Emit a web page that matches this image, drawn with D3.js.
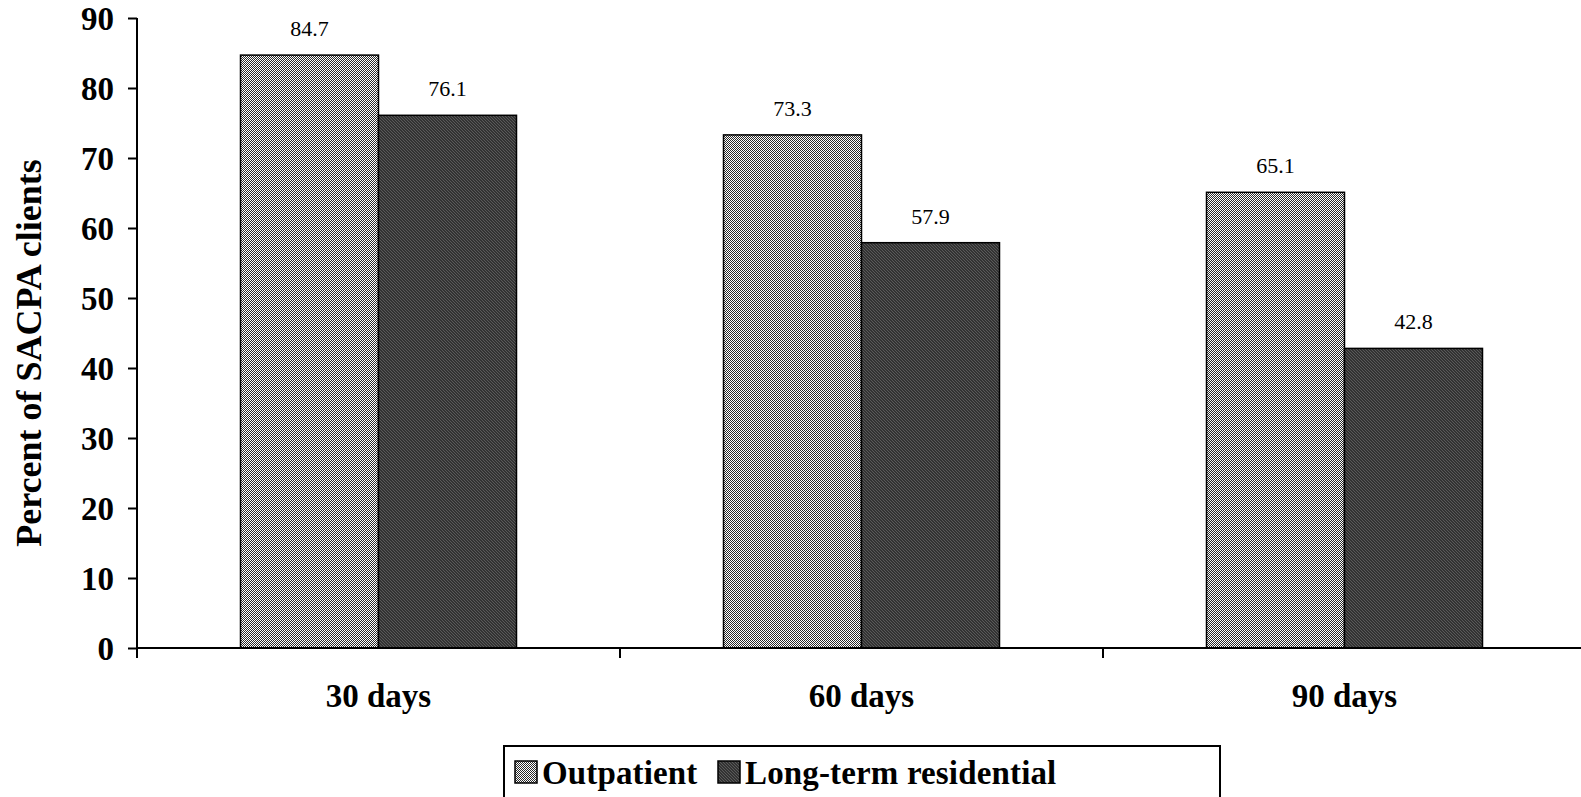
<!DOCTYPE html>
<html>
<head>
<meta charset="utf-8">
<script src="https://cdn.jsdelivr.net/npm/d3@7"></script>
<style>
  html, body { margin: 0; padding: 0; background: #fff; }
  svg { display: block; }
  text { font-family: "Liberation Serif", "Times New Roman", serif; fill: #000; }
</style>
</head>
<body>
<svg id="chart" width="1581" height="797"></svg>
<script>
const categories = ["30 days", "60 days", "90 days"];
const seriesNames = ["Outpatient", "Long-term residential"];
const outpatient = [84.7, 73.3, 65.1];
const longTerm = [76.1, 57.9, 42.8];
const yTicks = [0, 10, 20, 30, 40, 50, 60, 70, 80, 90];
const yTitle = "Percent of SACPA clients";

const seriesValues = [outpatient, longTerm];
const fills = ["url(#checker)", "url(#darkdiag)"];

const svg = d3.select("#chart");
const defs = svg.append("defs");

// light checkerboard pattern
const p1 = defs.append("pattern").attr("id", "checker")
  .attr("width", 2).attr("height", 2).attr("patternUnits", "userSpaceOnUse");
p1.append("rect").attr("width", 2).attr("height", 2).attr("fill", "#ffffff");
p1.append("rect").attr("x", 0).attr("y", 0).attr("width", 1).attr("height", 1).attr("fill", "#2a2a2a");
p1.append("rect").attr("x", 1).attr("y", 1).attr("width", 1).attr("height", 1).attr("fill", "#2a2a2a");

// dark diagonal pattern
const p2 = defs.append("pattern").attr("id", "darkdiag")
  .attr("width", 3).attr("height", 3).attr("patternUnits", "userSpaceOnUse");
p2.append("rect").attr("width", 3).attr("height", 3).attr("fill", "#333333");
p2.append("rect").attr("x", 0).attr("y", 0).attr("width", 1).attr("height", 1).attr("fill", "#5a5a5a");
p2.append("rect").attr("x", 1).attr("y", 1).attr("width", 1).attr("height", 1).attr("fill", "#5a5a5a");
p2.append("rect").attr("x", 2).attr("y", 2).attr("width", 1).attr("height", 1).attr("fill", "#5a5a5a");

const y = d3.scaleLinear().domain([0, 90]).range([648, 18]);
const x0 = d3.scaleBand().domain(categories).range([137, 1586]).paddingInner(0).paddingOuter(0);
const x1 = d3.scaleBand().domain(seriesNames).range([0, x0.bandwidth()]).paddingInner(0).paddingOuter(0.75);

// bars
const groups = svg.append("g").selectAll("g").data(categories).join("g")
  .attr("transform", d => `translate(${x0(d)},0)`);

groups.each(function(cat, ci) {
  const g = d3.select(this);
  seriesNames.forEach((s, si) => {
    const v = seriesValues[si][ci];
    g.append("rect")
      .attr("x", x1(s))
      .attr("y", y(v))
      .attr("width", x1.bandwidth())
      .attr("height", y(0) - y(v))
      .attr("fill", fills[si])
      .attr("stroke", "#000")
      .attr("stroke-width", 1.5);
    g.append("text")
      .attr("x", x1(s) + x1.bandwidth() / 2)
      .attr("y", y(v) - 19)
      .attr("text-anchor", "middle")
      .attr("font-size", 22)
      .text(v.toFixed(1));
  });
});

// y axis
const yAxis = d3.axisLeft(y).tickValues(yTicks).tickSize(9).tickPadding(14).tickFormat(d3.format("d"));
const yg = svg.append("g").attr("transform", "translate(137,0)").call(yAxis);
yg.select(".domain").attr("d", `M0,${y(90)}V${y(0) + 10}`).attr("stroke", "#000").attr("stroke-width", 2);
yg.selectAll(".tick line").attr("stroke", "#000").attr("stroke-width", 2);
yg.selectAll(".tick text")
  .attr("font-family", "Liberation Serif, Times New Roman, serif")
  .attr("font-weight", "bold").attr("font-size", 33).attr("fill", "#000")
  .attr("dy", "0.34em");

// x axis
const xg = svg.append("g").attr("transform", `translate(0,${y(0)})`);
xg.append("line").attr("x1", 137).attr("x2", 1586).attr("y1", 0).attr("y2", 0)
  .attr("stroke", "#000").attr("stroke-width", 2);
const bounds = categories.map(c => x0(c)).concat([x0.range()[1]]);
xg.selectAll("line.xt").data(bounds.slice(1, 3)).join("line").attr("class", "xt")
  .attr("x1", d => d).attr("x2", d => d).attr("y1", 0).attr("y2", 10)
  .attr("stroke", "#000").attr("stroke-width", 2);
xg.selectAll("text.cat").data(categories).join("text").attr("class", "cat")
  .attr("x", d => x0(d) + x0.bandwidth() / 2)
  .attr("y", 59)
  .attr("text-anchor", "middle")
  .attr("font-weight", "bold").attr("font-size", 33)
  .text(d => d);

// y title
svg.append("text")
  .attr("transform", "translate(41,353) rotate(-90)")
  .attr("text-anchor", "middle")
  .attr("font-weight", "bold").attr("font-size", 36)
  .text(yTitle);

// legend
const lg = svg.append("g");
lg.append("rect").attr("x", 504).attr("y", 746).attr("width", 716).attr("height", 70)
  .attr("fill", "#fff").attr("stroke", "#000").attr("stroke-width", 2);
const legendX = [515, 718];
seriesNames.forEach((s, i) => {
  lg.append("rect").attr("x", legendX[i]).attr("y", 761).attr("width", 22).attr("height", 22)
    .attr("fill", fills[i]).attr("stroke", "#000").attr("stroke-width", 1.5);
  lg.append("text").attr("x", legendX[i] + 27).attr("y", 784)
    .attr("font-weight", "bold").attr("font-size", 33)
    .attr("letter-spacing", 0.15)
    .text(s);
});
</script>
</body>
</html>
